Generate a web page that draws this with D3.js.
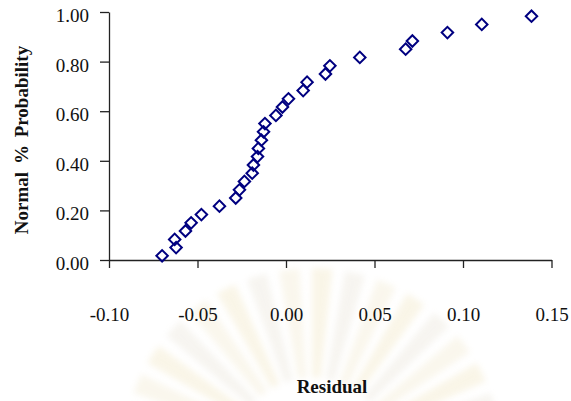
<!DOCTYPE html>
<html>
<head>
<meta charset="utf-8">
<script src="https://cdn.jsdelivr.net/npm/d3@7"></script>
<style>
  html, body { margin: 0; padding: 0; background: #fff; }
  svg { display: block; }
  text { font-family: "Times New Roman", "Liberation Serif", "DejaVu Serif", serif; fill: #111; }
</style>
</head>
<body>
<svg id="chart" width="571" height="401"></svg>
<script>
// Normal probability plot of residuals
const residuals = [
  -0.0700, -0.0621, -0.0629, -0.0568, -0.0536, -0.0478, -0.0376, -0.0284,
  -0.0263, -0.0235, -0.0191, -0.0184, -0.0161, -0.0156, -0.0139, -0.0127,
  -0.0119, -0.0057, -0.0020,  0.0014,  0.0097,  0.0119,  0.0223,  0.0248,
   0.0417,  0.0676,  0.0714,  0.0912,  0.1106,  0.1387
];
const probabilities = [
  0.017, 0.050, 0.083, 0.117, 0.150, 0.183, 0.217, 0.250,
  0.283, 0.317, 0.350, 0.383, 0.417, 0.450, 0.483, 0.517,
  0.550, 0.583, 0.617, 0.650, 0.683, 0.717, 0.750, 0.783,
  0.817, 0.850, 0.883, 0.917, 0.950, 0.983
];
const xTicks = [-0.10, -0.05, 0.00, 0.05, 0.10, 0.15];
const yTicks = [0.00, 0.20, 0.40, 0.60, 0.80, 1.00];
const xTitle = "Residual";
const yTitle = "Normal % Probability";

// two decimals with a plain hyphen for negatives
const fmt = d => d.toFixed(2);

const svg = d3.select("#chart");

// faint sunburst emblem in the background
const defs = svg.append("defs");
defs.append("filter").attr("id", "soft")
  .append("feGaussianBlur").attr("stdDeviation", 3);
const emblem = svg.append("g")
  .attr("transform", "translate(312,458)")
  .attr("filter", "url(#soft)")
  .attr("opacity", 0.32);
const rayCount = 36;
const rayArc = d3.arc().innerRadius(70).outerRadius(190);
d3.range(rayCount).forEach(i => {
  const a0 = (i / rayCount) * 2 * Math.PI;
  const w = (2 * Math.PI / rayCount) * 0.62;
  emblem.append("path")
    .attr("d", rayArc({ startAngle: a0, endAngle: a0 + w }))
    .attr("fill", i % 3 === 0 ? "#efe2b8" : (i % 3 === 1 ? "#e6e0d2" : "#f0e6c8"));
});
emblem.append("circle").attr("r", 80).attr("fill", "#fff");

const x = d3.scaleLinear().domain([-0.10, 0.15]).range([109, 551.5]);
const y = d3.scaleLinear().domain([0, 1]).range([260, 12]);

// x axis sits on y = 0, labels hang well below
const xAxis = svg.append("g")
  .attr("transform", `translate(0,${y(0)})`)
  .call(d3.axisBottom(x).tickValues(xTicks).tickSize(8).tickSizeOuter(0)
    .tickFormat(fmt));
xAxis.selectAll("text")
  .attr("y", 60.7).attr("dy", null)
  .style("font-size", "19px");

const yAxis = svg.append("g")
  .attr("transform", `translate(${x(-0.10)},0)`)
  .call(d3.axisLeft(y).tickValues(yTicks).tickSize(9).tickSizeOuter(0)
    .tickFormat(fmt));
yAxis.selectAll("text")
  .attr("x", -20).attr("dy", "9.5px")
  .style("font-size", "19px");

[xAxis, yAxis].forEach(g => {
  g.select(".domain").attr("stroke", "#222").attr("stroke-width", 1.3);
  g.selectAll(".tick line").attr("stroke", "#222").attr("stroke-width", 1.3);
  g.selectAll("text").attr("fill", "#111")
    .style("font-family", '"Times New Roman", "Liberation Serif", serif');
});

// markers: hollow navy diamonds
const diamond = d3.symbol().type(d3.symbolSquare).size(66);
svg.append("g").selectAll("path")
  .data(residuals.map((r, i) => ({ r, p: probabilities[i] })))
  .join("path")
  .attr("d", diamond)
  .attr("transform", d => `translate(${x(d.r)},${y(d.p)}) rotate(45)`)
  .attr("fill", "none")
  .attr("stroke", "#000080")
  .attr("stroke-width", 2);

// titles
svg.append("text")
  .attr("x", 332).attr("y", 393)
  .attr("text-anchor", "middle")
  .style("font-size", "19px").style("font-weight", "bold")
  .text(xTitle);

svg.append("text")
  .attr("transform", "translate(28,140) rotate(-90)")
  .attr("text-anchor", "middle")
  .style("font-size", "19px").style("font-weight", "bold")
  .style("word-spacing", "3px")
  .text(yTitle);
</script>
</body>
</html>
